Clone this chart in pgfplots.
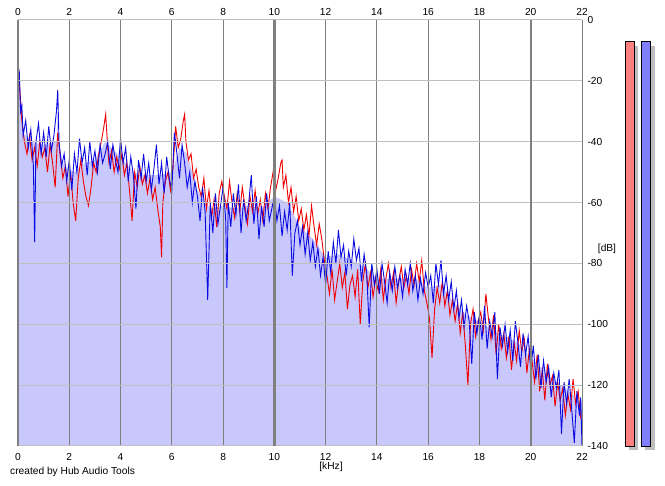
\documentclass[border=0pt]{standalone}
\usepackage{pgfplots}
\pgfplotsset{compat=1.18}
\usepackage{fontspec}
\setmainfont{Liberation Sans}
\definecolor{lav}{RGB}{200,200,252}
\definecolor{vgrid}{RGB}{128,128,128}
\definecolor{hgrid}{RGB}{192,192,192}
\definecolor{sred}{RGB}{240,0,0}
\definecolor{sblue}{RGB}{10,10,225}
\definecolor{mred}{RGB}{255,128,128}
\definecolor{mblue}{RGB}{128,128,255}
\definecolor{shadow}{RGB}{190,190,190}
\begin{document}
\begin{tikzpicture}[x=1pt,y=1pt]
\fontsize{10.2}{12}\selectfont
\path[use as bounding box] (0,0) rectangle (665,486);
\begin{axis}[
  at={(18pt,40pt)}, anchor=south west,
  scale only axis, width=564pt, height=426pt,
  xmin=0, xmax=22, ymin=-140, ymax=0,
  axis on top,
  axis line style={draw=none},
  major tick length=0pt,
  xtick={0,2,...,22},
  xticklabels={0,2,4,6,8,10,12,14,16,18,20,22},
  ytick={-140,-120,-100,-80,-60,-40,-20,0},
  yticklabels={-140,-120,-100,-80,-60,-40,-20,0},
  xticklabel pos=lower, yticklabel pos=right,
  xticklabel style={font=\fontsize{10.2}{12}\selectfont, yshift=-3.5pt},
  yticklabel style={font=\fontsize{10.2}{12}\selectfont, anchor=west, xshift=2pt},
  grid=major,
  every axis x grid/.append style={vgrid, line width=1pt},
  every axis y grid/.append style={hgrid, line width=1pt},
  extra x ticks={0,10,20},
  extra x tick labels={},
  extra x tick style={grid=major, every axis x grid/.style={vgrid, line width=2.4pt}},
  clip=true,
]
% smoothed spectrum (fill)
\addplot[fill=lav, draw=none] coordinates {
(0,-140)(0,-15)(0.05,-17)(0.1,-28)(0.2,-37)(0.5,-40)(1,-41)(1.5,-40)(1.55,-30)(1.6,-42)(1.8,-48)(2.2,-50)(2.6,-47)(3,-46)(3.4,-40)(4,-45)(4.5,-50)(5,-51)(5.5,-51)(6,-50)(6.3,-42)(6.6,-44)(7,-56)(7.5,-62)(8,-61)(8.5,-62)(9,-61)(9.5,-62)(10,-58)(10.5,-60)(11,-68)(11.5,-72)(12,-78)(12.5,-77)(13,-79)(13.5,-81)(14,-85)(14.5,-85)(15,-85)(15.5,-85)(16,-88)(16.5,-87)(17,-93)(17.5,-97)(18,-99)(18.5,-102)(19,-104)(19.5,-106)(20,-111)(20.5,-115)(21,-119)(21.5,-122)(22,-126)(22,-140)
};
% red channel
\addplot[sred, line width=0.9pt] coordinates {
(0.05,-20)(0.15,-33)(0.25,-40)(0.35,-44)(0.45,-38)(0.55,-46)(0.65,-42)(0.75,-48)(0.85,-40)(0.95,-45)
(1.05,-42)(1.15,-50)(1.25,-41)(1.35,-47)(1.45,-55)(1.55,-37)(1.65,-45)(1.75,-52)(1.85,-48)(1.95,-58)
(2.05,-50)(2.15,-60)(2.25,-66)(2.35,-52)(2.45,-46)(2.55,-53)(2.65,-58)(2.75,-61)(2.85,-55)(2.95,-47)
(3.05,-50)(3.15,-44)(3.25,-40)(3.35,-35)(3.42,-31)(3.5,-42)(3.55,-47)(3.65,-43)(3.75,-50)(3.85,-45)(3.95,-49)
(4.05,-44)(4.15,-51)(4.25,-47)(4.35,-56)(4.45,-66)(4.55,-50)(4.65,-55)(4.75,-48)(4.85,-54)(4.95,-51)
(5.05,-57)(5.15,-52)(5.25,-59)(5.35,-55)(5.45,-62)(5.55,-68)(5.6,-78)(5.65,-60)(5.75,-53)(5.85,-50)(5.95,-56)
(6.05,-48)(6.15,-35)(6.25,-42)(6.35,-39)(6.45,-33)(6.5,-31)(6.55,-40)(6.65,-46)(6.75,-44)(6.85,-52)(6.95,-49)
(7.05,-55)(7.15,-58)(7.25,-52)(7.35,-62)(7.45,-56)(7.55,-65)(7.65,-59)(7.75,-68)(7.85,-57)(7.95,-53)
(8.05,-58)(8.15,-62)(8.25,-53)(8.35,-60)(8.45,-65)(8.55,-57)(8.65,-63)(8.75,-55)(8.85,-61)(8.95,-67)
(9.05,-58)(9.15,-63)(9.25,-56)(9.35,-64)(9.45,-59)(9.55,-66)(9.65,-57)(9.75,-62)(9.85,-55)(9.95,-50)
(10.05,-56)(10.15,-52)(10.25,-47)(10.3,-46)(10.35,-55)(10.45,-51)(10.55,-60)(10.65,-55)(10.75,-63)(10.85,-58)(10.95,-66)
(11.05,-62)(11.15,-69)(11.25,-64)(11.35,-71)(11.45,-61)(11.55,-68)(11.65,-74)(11.75,-67)(11.85,-72)(11.95,-79)
(12.05,-84)(12.15,-90)(12.25,-82)(12.35,-92)(12.45,-86)(12.55,-80)(12.65,-88)(12.75,-83)(12.85,-95)(12.95,-87)
(13.05,-84)(13.15,-91)(13.25,-82)(13.35,-100)(13.45,-86)(13.55,-80)(13.65,-88)(13.75,-83)(13.85,-91)(13.95,-85)
(14.05,-89)(14.15,-82)(14.25,-92)(14.35,-85)(14.45,-80)(14.55,-88)(14.65,-83)(14.75,-93)(14.85,-86)(14.95,-81)
(15.05,-88)(15.15,-84)(15.25,-90)(15.35,-82)(15.45,-87)(15.55,-80)(15.65,-86)(15.75,-79)(15.85,-89)(15.95,-93)
(16.05,-98)(16.15,-111)(16.25,-95)(16.35,-88)(16.45,-93)(16.55,-86)(16.65,-94)(16.75,-89)(16.85,-97)(16.95,-92)
(17.05,-99)(17.15,-93)(17.25,-103)(17.35,-96)(17.45,-107)(17.55,-120)(17.65,-100)(17.75,-95)(17.85,-104)(17.95,-99)
(18.05,-96)(18.15,-102)(18.25,-90)(18.35,-98)(18.45,-105)(18.55,-97)(18.65,-110)(18.75,-100)(18.85,-108)(18.95,-103)
(19.05,-111)(19.15,-104)(19.25,-115)(19.35,-106)(19.45,-112)(19.55,-102)(19.65,-109)(19.75,-105)(19.85,-116)(19.95,-108)
(20.05,-112)(20.15,-119)(20.25,-110)(20.35,-122)(20.45,-115)(20.55,-125)(20.65,-113)(20.75,-120)(20.85,-117)(20.95,-127)
(21.05,-119)(21.15,-125)(21.25,-121)(21.35,-130)(21.45,-123)(21.55,-128)(21.65,-118)(21.75,-126)(21.85,-122)(21.95,-131)
};
% blue channel
\addplot[sblue, line width=0.9pt] coordinates {
(0,-15)(0.05,-17)(0.1,-30)(0.15,-28)(0.2,-38)(0.3,-33)(0.4,-42)(0.5,-36)(0.6,-48)(0.65,-73)(0.7,-40)(0.8,-34)(0.9,-44)
(1.0,-37)(1.1,-45)(1.2,-35)(1.3,-43)(1.4,-38)(1.5,-30)(1.55,-23)(1.6,-40)(1.7,-48)(1.8,-44)(1.9,-53)
(2.0,-46)(2.1,-56)(2.2,-44)(2.3,-50)(2.4,-39)(2.5,-47)(2.6,-42)(2.7,-51)(2.8,-40)(2.9,-48)
(3.0,-43)(3.1,-50)(3.2,-41)(3.3,-47)(3.4,-44)(3.5,-40)(3.6,-49)(3.7,-41)(3.8,-46)(3.9,-50)
(4.0,-39)(4.1,-47)(4.2,-42)(4.3,-53)(4.4,-45)(4.5,-51)(4.6,-62)(4.7,-46)(4.8,-52)(4.9,-44)
(5.0,-53)(5.1,-47)(5.2,-56)(5.3,-49)(5.4,-41)(5.5,-54)(5.6,-47)(5.7,-57)(5.8,-45)(5.9,-52)
(6.0,-56)(6.1,-37)(6.2,-44)(6.3,-52)(6.4,-41)(6.5,-47)(6.6,-55)(6.7,-50)(6.8,-60)(6.9,-53)
(7.0,-58)(7.1,-66)(7.2,-55)(7.3,-63)(7.4,-92)(7.5,-60)(7.6,-70)(7.7,-57)(7.8,-67)(7.9,-61)
(8.0,-55)(8.1,-65)(8.15,-88)(8.2,-60)(8.3,-68)(8.4,-57)(8.5,-64)(8.6,-54)(8.7,-70)(8.8,-59)(8.9,-66)
(9.0,-60)(9.1,-51)(9.2,-67)(9.3,-58)(9.4,-72)(9.5,-61)(9.6,-68)(9.7,-57)(9.8,-66)(9.9,-62)
(10.0,-58)(10.1,-66)(10.2,-61)(10.3,-71)(10.4,-63)(10.5,-69)(10.6,-60)(10.7,-84)(10.8,-70)(10.9,-66)
(11.0,-74)(11.1,-68)(11.2,-77)(11.3,-70)(11.4,-79)(11.5,-73)(11.6,-81)(11.7,-75)(11.8,-84)(11.9,-78)
(12.0,-87)(12.1,-76)(12.2,-83)(12.3,-73)(12.4,-80)(12.5,-69)(12.6,-78)(12.7,-74)(12.8,-84)(12.9,-76)
(13.0,-81)(13.1,-72)(13.2,-79)(13.3,-75)(13.4,-86)(13.5,-77)(13.6,-83)(13.7,-101)(13.8,-80)(13.9,-87)
(14.0,-82)(14.1,-90)(14.2,-80)(14.3,-86)(14.4,-93)(14.5,-83)(14.6,-89)(14.7,-81)(14.8,-88)(14.9,-84)
(15.0,-91)(15.1,-82)(15.2,-87)(15.3,-80)(15.4,-89)(15.5,-84)(15.6,-92)(15.7,-85)(15.8,-90)(15.9,-83)
(16.0,-88)(16.1,-84)(16.2,-93)(16.3,-80)(16.4,-87)(16.5,-79)(16.6,-90)(16.7,-84)(16.8,-92)(16.9,-86)
(17.0,-95)(17.1,-89)(17.2,-98)(17.3,-92)(17.4,-101)(17.5,-94)(17.6,-99)(17.7,-113)(17.8,-96)(17.9,-103)
(18.0,-97)(18.1,-105)(18.2,-94)(18.3,-108)(18.4,-99)(18.5,-104)(18.6,-96)(18.7,-118)(18.8,-101)(18.9,-107)
(19.0,-100)(19.1,-109)(19.2,-102)(19.3,-112)(19.4,-99)(19.5,-106)(19.6,-114)(19.7,-103)(19.8,-110)(19.9,-104)
(20.0,-115)(20.1,-107)(20.2,-118)(20.3,-110)(20.4,-121)(20.5,-112)(20.6,-119)(20.7,-114)(20.8,-124)(20.9,-116)
(21.0,-121)(21.1,-115)(21.2,-136)(21.3,-119)(21.4,-126)(21.5,-118)(21.6,-128)(21.7,-139)(21.8,-122)(21.9,-130)(21.95,-124)(22.0,-140)
};
\end{axis}
% top tick labels
\begin{axis}[
  at={(18pt,40pt)}, anchor=south west,
  scale only axis, width=564pt, height=426pt,
  xmin=0, xmax=22, ymin=-140, ymax=0,
  axis line style={draw=none},
  major tick length=0pt,
  xtick={0,2,...,22},
  xticklabels={0,2,4,6,8,10,12,14,16,18,20,22},
  ytick=\empty,
  xticklabel pos=upper,
  xticklabel style={font=\fontsize{10.2}{12}\selectfont, yshift=1pt},
]
\addplot[draw=none] coordinates {(0,0)};
\end{axis}
% level meters
\begin{axis}[
  at={(620pt,40pt)}, anchor=south west,
  scale only axis, width=40pt, height=426pt,
  xmin=0, xmax=40, ymin=-140, ymax=0,
  hide axis, clip=false,
]
\addplot[fill=shadow, draw=none] coordinates {(9,-141.3)(9,-8.5)(18.3,-8.5)(18.3,-141.3)};
\addplot[fill=shadow, draw=none] coordinates {(25.3,-141.3)(25.3,-8.5)(34.7,-8.5)(34.7,-141.3)};
\addplot[fill=mred, draw=black, line width=0.9pt] coordinates {(5,-140)(5,-7.2)(14.3,-7.2)(14.3,-140)} -- cycle;
\addplot[fill=mblue, draw=black, line width=0.9pt] coordinates {(21.3,-140)(21.3,-7.2)(30.7,-7.2)(30.7,-140)} -- cycle;
\end{axis}
\node[font=\fontsize{10.2}{12}\selectfont] at (607,237) {[dB]};
\node[font=\fontsize{10.2}{12}\selectfont] at (331,19) {[kHz]};
\node[font=\fontsize{10.2}{12}\selectfont, anchor=west, inner sep=0pt] at (10,14) {created by Hub Audio Tools};
\end{tikzpicture}
\end{document}
